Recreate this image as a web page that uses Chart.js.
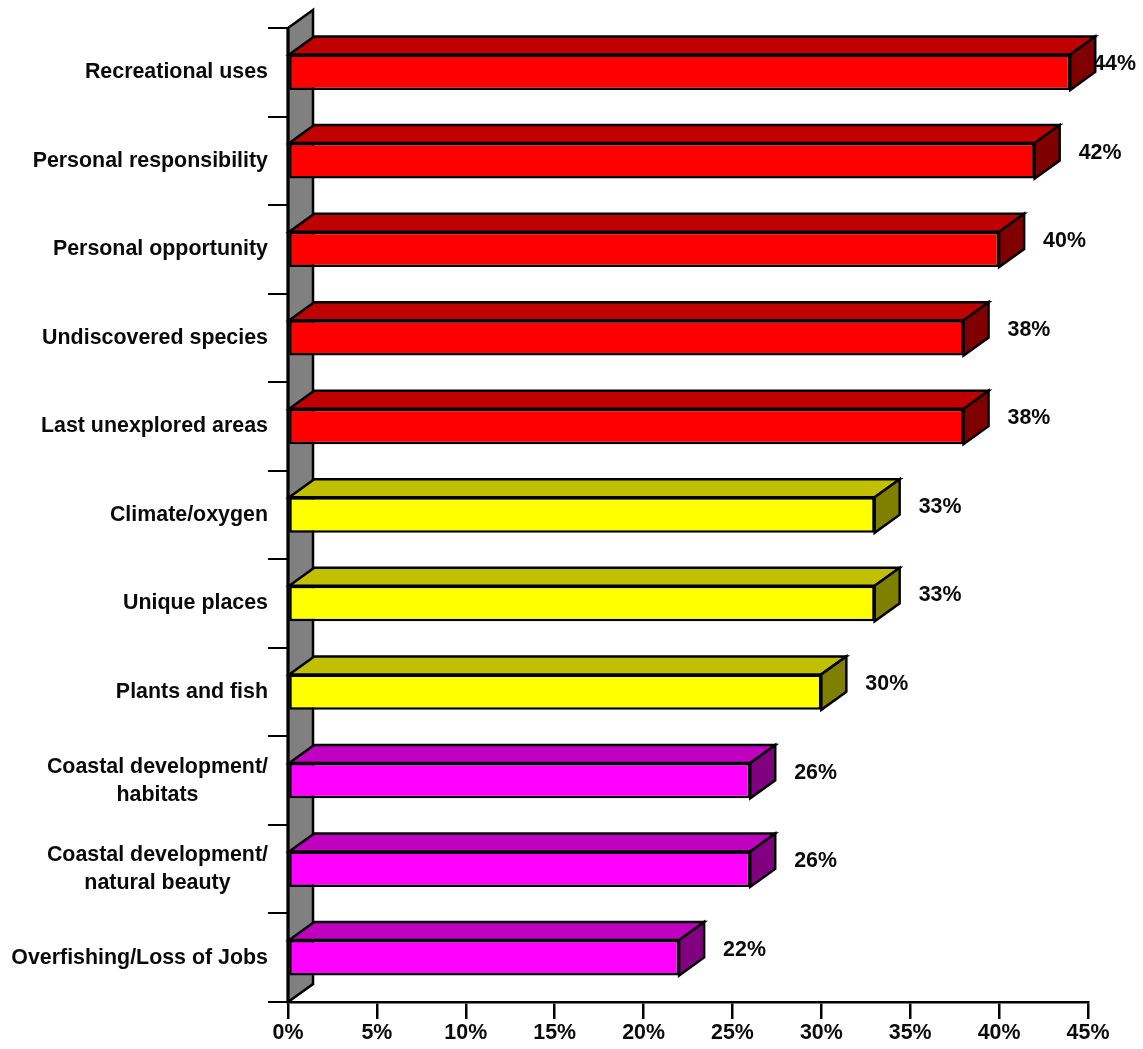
<!DOCTYPE html>
<html>
<head>
<meta charset="utf-8">
<script src="https://cdn.jsdelivr.net/npm/chart.js@4/dist/chart.umd.min.js"></script>
<style>
  html, body { margin: 0; padding: 0; background: #ffffff; }
  canvas { display: block; }
</style>
</head>
<body>
<canvas id="chart" width="1143" height="1049"></canvas>
<script>
// Survey reasons, top to bottom
const categories = [
  'Recreational uses',
  'Personal responsibility',
  'Personal opportunity',
  'Undiscovered species',
  'Last unexplored areas',
  'Climate/oxygen',
  'Unique places',
  'Plants and fish',
  ['Coastal development/', 'habitats'],
  ['Coastal development/', 'natural beauty'],
  'Overfishing/Loss of Jobs'
];

// Share of respondents (%)
const values = [44, 42, 40, 38, 38, 33, 33, 30, 26, 26, 22];

// Value axis range and step (%)
const axisMin = 0;
const axisMax = 45;
const axisStep = 5;

// Colour group of each bar: 0 = red, 1 = yellow, 2 = magenta
const colourGroup = [0, 0, 0, 0, 0, 1, 1, 1, 2, 2, 2];

const FRONT = ['#FF0000', '#FFFF00', '#FF00FF'];
const TOP   = ['#C00000', '#C0C000', '#C000C0'];
const SIDE  = ['#800000', '#808000', '#800080'];

const FONT_FAMILY = '"Liberation Sans", Arial, sans-serif';
const FONT_SIZE = 21.4;
const FONT = 'bold ' + FONT_SIZE + 'px ' + FONT_FAMILY;
const INK = '#0a0a0a';
const DEPTH_X = 25;
const DEPTH_Y = -18;
const EDGE = 2.5;

const frontColours = colourGroup.map(g => FRONT[g]);

// Wall behind the bars plus 3D top/side faces and labels
const depthPlugin = {
  id: 'depth3d',
  beforeDatasetsDraw(chart) {
    const { ctx, chartArea: a } = chart;
    ctx.save();
    ctx.beginPath();
    ctx.moveTo(a.left, a.top);
    ctx.lineTo(a.left + DEPTH_X, a.top + DEPTH_Y);
    ctx.lineTo(a.left + DEPTH_X, a.bottom + DEPTH_Y);
    ctx.lineTo(a.left, a.bottom);
    ctx.closePath();
    ctx.fillStyle = '#808080';
    ctx.fill();
    ctx.lineWidth = EDGE;
    ctx.strokeStyle = '#000000';
    ctx.lineJoin = 'miter';
    ctx.stroke();
    // front edge of the wall
    ctx.beginPath();
    ctx.moveTo(a.left, a.top);
    ctx.lineTo(a.left, a.bottom);
    ctx.lineWidth = 3;
    ctx.stroke();
    ctx.restore();
  },
  afterDatasetsDraw(chart) {
    const { ctx } = chart;
    const meta = chart.getDatasetMeta(0);
    ctx.save();
    ctx.lineWidth = EDGE;
    ctx.strokeStyle = '#000000';
    ctx.lineJoin = 'miter';
    meta.data.forEach((bar, i) => {
      const g = colourGroup[i];
      const left = bar.base;
      const right = bar.x;
      const top = bar.y - bar.height / 2;
      const bottom = bar.y + bar.height / 2;
      // top face
      ctx.beginPath();
      ctx.moveTo(left, top);
      ctx.lineTo(right, top);
      ctx.lineTo(right + DEPTH_X, top + DEPTH_Y);
      ctx.lineTo(left + DEPTH_X, top + DEPTH_Y);
      ctx.closePath();
      ctx.fillStyle = TOP[g];
      ctx.fill();
      ctx.stroke();
      // end face
      ctx.beginPath();
      ctx.moveTo(right, top);
      ctx.lineTo(right + DEPTH_X, top + DEPTH_Y);
      ctx.lineTo(right + DEPTH_X, bottom + DEPTH_Y);
      ctx.lineTo(right, bottom);
      ctx.closePath();
      ctx.fillStyle = SIDE[g];
      ctx.fill();
      ctx.stroke();
    });
    // value labels
    ctx.font = FONT;
    ctx.fillStyle = INK;
    ctx.textAlign = 'left';
    ctx.textBaseline = 'middle';
    meta.data.forEach((bar, i) => {
      const text = values[i] + '%';
      const w = ctx.measureText(text).width;
      let x = bar.x + DEPTH_X + 19;
      x = Math.min(x, chart.width - 7 - w);
      ctx.fillText(text, x, bar.y - 8);
    });
    ctx.restore();
  },
  afterDraw(chart) {
    const { ctx } = chart;
    const yScale = chart.scales.y;
    const rightEdge = yScale.right - 20;
    const lineH = 28;
    ctx.save();
    ctx.font = FONT;
    ctx.fillStyle = INK;
    ctx.textBaseline = 'middle';
    categories.forEach((label, i) => {
      const lines = Array.isArray(label) ? label : [label];
      const cy = yScale.getPixelForValue(i);
      const maxW = Math.max(...lines.map(l => ctx.measureText(l).width));
      const cx = rightEdge - maxW / 2;
      ctx.textAlign = 'center';
      lines.forEach((l, k) => {
        const y = cy + (k - (lines.length - 1) / 2) * lineH;
        ctx.fillText(l, cx, y);
      });
    });
    ctx.restore();
  }
};

new Chart(document.getElementById('chart'), {
  type: 'bar',
  data: {
    labels: categories,
    datasets: [{
      data: values,
      backgroundColor: frontColours,
      borderColor: '#000000',
      borderWidth: EDGE,
      borderSkipped: false,
      barPercentage: 0.4,
      categoryPercentage: 1.0
    }]
  },
  options: {
    indexAxis: 'y',
    responsive: false,
    animation: false,
    layout: { padding: { top: 28, right: 55, left: 0, bottom: 0 } },
    plugins: {
      legend: { display: false },
      tooltip: { enabled: false },
      title: { display: false }
    },
    scales: {
      y: {
        type: 'category',
        offset: true,
        grid: {
          offset: true,
          drawOnChartArea: false,
          drawTicks: true,
          tickLength: 20,
          color: '#000000',
          lineWidth: 2
        },
        border: { display: true, color: '#000000', width: 3 },
        ticks: { display: false },
        afterFit(scale) { scale.width = 288; }
      },
      x: {
        min: axisMin,
        max: axisMax,
        grid: {
          drawOnChartArea: false,
          drawTicks: true,
          tickLength: 17,
          color: '#000000',
          lineWidth: 2.5
        },
        border: { display: true, color: '#000000', width: 2.5 },
        ticks: {
          stepSize: axisStep,
          padding: 1,
          color: INK,
          font: { family: FONT_FAMILY, size: FONT_SIZE, weight: 'bold' },
          callback: v => v + '%'
        },
        afterFit(scale) { scale.height = 47; }
      }
    }
  },
  plugins: [depthPlugin]
});
</script>
</body>
</html>
